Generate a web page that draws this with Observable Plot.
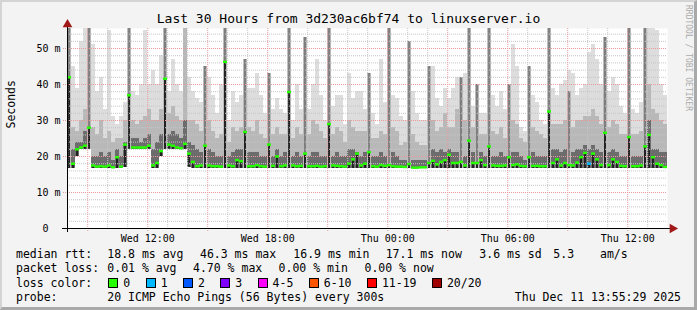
<!DOCTYPE html>
<html><head><meta charset="utf-8">
<script src="https://cdn.jsdelivr.net/npm/d3@7"></script>
<script src="https://cdn.jsdelivr.net/npm/@observablehq/plot@0.6"></script>
<style>
html,body{margin:0;padding:0;background:#fff;}
#chart{position:relative;width:697px;height:310px;background:#f3f3f3;overflow:hidden;font-family:"DejaVu Sans Mono",monospace;color:#000;}
#chart svg{position:absolute;left:0;top:0;}
.frame{position:absolute;left:0;top:0;width:697px;height:310px;box-sizing:border-box;border-top:2px solid #d4d4d4;border-left:2px solid #d4d4d4;border-right:3px solid #a9a9a9;border-bottom:3px solid #a9a9a9;pointer-events:none;}
.t{position:absolute;white-space:pre;font-size:11.5px;line-height:14px;}
.title{position:absolute;left:0;width:697px;top:11px;text-align:center;font-size:13px;line-height:16px;white-space:pre;}
.credit{position:absolute;left:684px;top:5px;writing-mode:vertical-rl;font-size:8px;line-height:9px;color:#ababab;white-space:pre;}
.sw{display:inline-block;width:8px;height:8px;border:1px solid #000;vertical-align:-1px;}
</style></head>
<body><div id="chart"></div>
<script>
// ---- data ----
const titleText = "Last 30 Hours from 3d230ac6bf74 to linuxserver.io";
const yTicks = [0, 10, 20, 30, 40, 50];
const minRtt = [
16.8,16.8,20,22,22,22,16.8,16.8,16.8,16.8, 16.8,16.8,16.8,16.8,17,22,22,22,22,22,
22,16.8,16.8,20,22,22,22,22,22,22, 17,16.8,16.8,16.8,16.8,16.8,16.8,16.8,16.8,16.8,
16.8,16.8,16.8,16.8,16.8,16.8,16.8,16.8,16.8,16.8, 16.8,16.8,16.8,16.8,16.8,16.8,16.8,16.8,16.8,16.8,
16.8,16.8,16.8,16.8,16.8,16.8,16.8,16.8,16.8,16.8, 16.8,16.8,16.8,16.8,16.8,16.8,16.8,16.8,16.8,16.8,
16.8,16.8,16.8,16.8,16.7,16.7,16.7,16.7,16.7,16.7, 16.8,16.8,16.8,16.8,16.8,16.8,16.8,16.8,16.8,16.8,
16.8,16.8,16.8,16.8,16.8,16.8,16.8,16.8,16.8,16.8, 16.8,16.8,16.8,16.8,16.8,16.8,16.8,16.8,16.8,16.8,
16.8,16.8,16.8,16.8,16.8,16.8,16.8,16.8,16.8,16.8, 16.8,16.8,16.8,16.8,16.8,16.8,16.8,16.8,16.8,16.8,
16.8,16.8,16.8,16.8,16.8,16.8,16.8,16.8,16.8,16.8];
const medRtt = [
42,18,22,22.5,23,28,17.5,17.2,17.3,17.2, 17.5,17,19.8,17.2,23.3,37,22.5,22.5,22.5,22.5,
23,17.5,18.2,21.5,41.6,23.3,23,22.5,22.3,23.5, 20.8,18.5,17.3,17.5,23,17.5,17.3,17.3,17.2,46.3,
17.5,17.3,19,18.7,26.8,17.3,17.3,17.6,17.3,17.2, 23.3,17.4,20,17.3,17.5,37.9,17.5,17.3,17.4,20.8,
17.3,17.3,17.4,17.2,17.3,29,17.5,17.4,17.3,17.2, 18,19.2,20.8,17.5,18,21.2,17.3,17.2,17.6,17.4,
17.6,17.3,17.2,17.2,17.1,17.9,16.9,16.9,17,17, 18.2,18.8,17.8,18.5,19,20.5,18.2,18.2,18.5,17.5,
24.4,18.2,18.2,19,17.6,22.8,17.5,17.4,17.4,17.5, 19.8,17.6,17.8,17.4,17.3,19.8,17.4,17.4,17.3,17.3,
32.5,18.2,19.2,17.5,18.2,17.6,17.5,18.3,19.8,21, 18,20.8,19.2,17.6,26.6,17.6,19.2,18.5,17.4,17.3,
25.4,17.3,17.3,17.5,22.8,26,19.8,18,17.6,17.1];
const smokeDark = [
56,22,24,24,27,56,20,20,21,20, 21,19,22,20,24,56,25,25,24,25,
26,22,24,26,56,26,27,26,25,30, 24,23,22,21,45,22,21,20,20,56,
20,21,22,22,47,21,21,21,20,20, 43,20,22,20,21,56,20,21,20,53,
20,21,21,20,20,56,20,21,20,20, 22,22,21,20,21,43,20,20,21,20,
56,21,20,19,19,52,19,19,19,19, 45,22,21,22,21,22,21,21,42,20,
56,21,40,21,20,56,20,20,21,20, 40,21,21,20,19,45,21,20,20,20,
56,22,22,21,22,38,21,22,22,23, 22,23,22,21,53,21,22,21,20,20,
56,20,20,20,56,30,22,22,21,21];
const smokeMid = [
56,28,27,30,33,56,28,26,30,25, 27,24,25,25,30,56,30,29,30,31,
33,30,30,33,56,32,34,31,30,56, 30,30,29,27,45,30,27,25,26,56,
24,28,27,28,47,28,27,30,26,25, 43,26,28,26,26,56,25,28,26,53,
26,30,29,27,25,56,26,28,27,24, 30,28,27,27,27,43,25,25,27,26,
56,28,27,23,24,52,26,24,23,23, 45,30,27,28,32,28,28,33,42,30,
56,28,40,26,26,56,27,26,28,25, 40,30,29,25,24,45,28,27,26,25,
56,29,29,29,30,38,28,30,30,31, 31,33,31,29,53,28,30,29,26,26,
56,26,26,27,56,40,33,32,30,29];
const maxRtt = [
56,45,39,52,56,56,51,38,42,33, 55,31,29,31,35,56,38,37,40,55,
40,44,40,48,56,38,47,40,38,56, 42,38,36,35,45,42,37,32,40,56,
30,38,35,37,47,39,39,43,37,32, 43,33,36,33,32,56,30,40,33,53,
33,40,47,37,30,56,34,37,37,29, 43,36,38,38,33,43,32,29,47,35,
56,37,36,31,30,52,38,32,30,30, 45,45,36,34,39,36,39,42,42,43,
56,34,40,32,32,56,37,34,38,33, 40,51,45,28,27,45,37,35,30,29,
56,39,37,40,41,44,43,37,39,40, 49,51,47,40,53,38,42,40,34,32,
56,33,32,35,56,56,56,55,40,37];
const lossCount = [
0,0,0,0,0,0,0,0,0,0, 0,0,0,0,0,0,0,0,0,0, 0,0,0,0,0,0,0,0,0,0,
0,0,0,0,0,0,0,0,0,0, 0,0,0,0,0,0,0,0,0,0, 0,0,0,0,0,0,0,0,0,0,
0,0,0,0,0,0,0,0,0,0, 0,0,0,0,0,0,0,0,0,0, 0,0,0,0,0,0,0,0,0,0,
0,0,0,0,0,0,0,0,0,0, 0,0,0,0,0,0,0,0,0,0, 0,0,0,0,0,0,0,0,0,0,
0,0,0,0,0,0,0,0,0,0, 1,0,0,0,0,0,0,0,0,0, 0,0,0,0,0,0,0,0,0,0];
const lossLabels = ["0","1","2","3","4-5","6-10","11-19","20/20"];
const lossColors = ["#26ff00","#00b8ff","#0059ff","#7e00ff","#ff00ff","#ff5500","#ff0000","#a10000"];
const rttStats = ["18.8 ms avg","46.3 ms max","16.9 ms min","17.1 ms now","3.6 ms sd","5.3","am/s"];
const lossStats = ["0.01 % avg","4.70 % max","0.00 % min","0.00 % now"];
const probeText = "20 ICMP Echo Pings (56 Bytes) every 300s";
const stampText = "Thu Dec 11 13:55:29 2025";
const creditText = "RRDTOOL / TOBI OETIKER";

// ---- time base ----
const start = new Date(Date.UTC(2025, 11, 10, 7, 59, 20));
const end = new Date(Date.UTC(2025, 11, 11, 13, 59, 20));
const stepMin = 12;
const yMax = 55.56;
const spikeLevel = 35;

function lossBin(n){ if(n<=3) return n; if(n<=5) return 4; if(n<=10) return 5; if(n<=19) return 6; return 7; }

const rows = medRtt.map((m, i) => ({
  t0: d3.utcMinute.offset(start, i*stepMin),
  t1: d3.utcMinute.offset(start, (i+1)*stepMin),
  min: minRtt[i], med: m, dark: smokeDark[i], mid: smokeMid[i], max: maxRtt[i], loss: lossCount[i]
}));
const spikeRows = rows.filter(d => d.dark >= spikeLevel);
const plainRows = rows.filter(d => d.dark < spikeLevel);

const majorY = yTicks.filter(v => v > 0);
const minorY = d3.range(2, yMax, 2).filter(v => v % 10 !== 0);
const hours = d3.utcHour.range(start, end);
const majorX = hours.filter(d => d.getUTCHours() % 3 === 0);
const minorX = hours.filter(d => d.getUTCHours() % 3 !== 0);
const xTicks = hours.filter(d => d.getUTCHours() % 6 === 0);
const fmtX = d3.utcFormat("%a %H:%M");

const rectOpts = {x1: "t0", x2: "t1", y1: "min", clip: true, shapeRendering: "crispEdges"};

const chart = Plot.plot({
  width: 697, height: 310,
  marginLeft: 67, marginRight: 30, marginTop: 28, marginBottom: 82,
  style: {background: "transparent", fontFamily: '"DejaVu Sans Mono", monospace', fontSize: "10px", color: "#000", overflow: "visible"},
  x: {type: "utc", domain: [start, end], label: null},
  y: {domain: [0, yMax], label: null},
  marks: [
    Plot.frame({fill: "white", stroke: "none"}),
    Plot.rect(rows, {...rectOpts, y2: "max", fill: "#dddddd"}),
    Plot.rect(rows, {...rectOpts, y2: "mid", fill: "#b8b8b8"}),
    Plot.rect(plainRows, {...rectOpts, y2: "dark", fill: "#6c6c6c"}),
    Plot.rect(spikeRows, {...rectOpts, y2: "dark", fill: "#7e7e7e", insetLeft: 1, insetRight: 1}),
    Plot.rect(rows, {...rectOpts, y2: "med", fill: "#222222", insetLeft: 1, insetRight: 1}),
    Plot.ruleY(minorY, {stroke: "#c6c6c6", strokeDasharray: "1,1"}),
    Plot.ruleX(minorX, {stroke: "#c6c6c6", strokeDasharray: "1,1"}),
    Plot.ruleY(majorY, {stroke: "#e99a9a", strokeDasharray: "1,1", insetLeft: -4}),
    Plot.ruleX(majorX, {stroke: "#e99a9a", strokeDasharray: "1,1", insetBottom: -3}),
    Plot.ruleY(rows, {y: "med", x1: "t0", x2: "t1", stroke: d => lossColors[lossBin(d.loss)], strokeWidth: 2.5, clip: true}),
    Plot.axisY(yTicks, {tickSize: 0, tickPadding: 7, fontSize: 10, label: null,
      tickFormat: d => d === 0 ? "0\u00a0\u00a0" : d + " m"}),
    Plot.axisX(xTicks, {tickSize: 0, tickPadding: 6, fontSize: 10, label: null, tickFormat: fmtX}),
    Plot.ruleY([0], {stroke: "#000", insetLeft: -5, insetRight: -3}),
    Plot.ruleX([start], {stroke: "#000", insetTop: -3, insetBottom: -4}),
    Plot.dot([{x: end, y: 0}], {x: "x", y: "y", symbol: "triangle", rotate: 90, r: 3.6, fill: "#a01818", stroke: "none", dx: 5}),
    Plot.dot([{x: start, y: yMax}], {x: "x", y: "y", symbol: "triangle", r: 3.6, fill: "#a01818", stroke: "none", dy: -4}),
    Plot.text(["Seconds"], {text: d => d, frameAnchor: "left", rotate: -90, dx: -56, fontSize: 11.5})
  ]
});

const root = document.getElementById("chart");
root.appendChild(chart);

function addText(cls, txt, x, y){
  const el = document.createElement("div");
  el.className = cls; el.textContent = txt;
  if (x != null) el.style.left = x + "px";
  if (y != null) el.style.top = y + "px";
  root.appendChild(el); return el;
}
addText("title", titleText);
addText("credit", creditText);

// legend lines
const lineTops = [247, 261.4, 275.5, 289.9];
const rttX = [107.3, 200, 293.3, 385.7, 479.3, 553.3, 600];
addText("t", "median rtt:", 16, lineTops[0]);
rttStats.forEach((s, i) => addText("t", s, rttX[i], lineTops[0]));
const lossX = [107.3, 193, 278.6, 364.5];
addText("t", "packet loss:", 16, lineTops[1]);
lossStats.forEach((s, i) => addText("t", s, lossX[i], lineTops[1]));
addText("t", "loss color:", 16, lineTops[2]);
const lc = addText("t", "", 108.3, lineTops[2]);
lossLabels.forEach((lab, i) => {
  const b = document.createElement("span"); b.className = "sw"; b.style.background = lossColors[i]; lc.appendChild(b);
  const s = document.createElement("span"); s.textContent = lab; s.style.marginLeft = "5px"; s.style.marginRight = "15.4px"; lc.appendChild(s);
});
addText("t", "probe:", 16, lineTops[3]);
addText("t", probeText, 107.3, lineTops[3]);
const st = addText("t", stampText, null, lineTops[3]); st.style.right = "16px";

const fr = document.createElement("div"); fr.className = "frame"; root.appendChild(fr);
</script>
</body></html>
